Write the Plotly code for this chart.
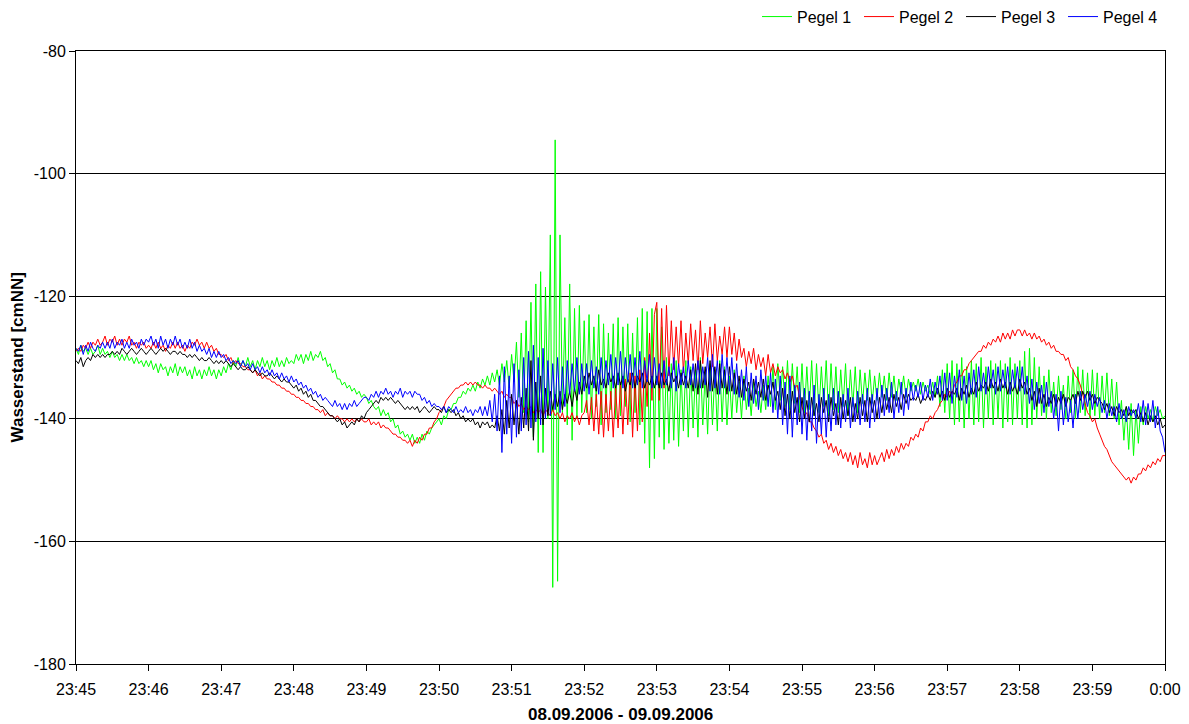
import pandas as pd
import plotly.graph_objects as go

# ---- data: water levels [cmNN], 2-second samples, one row per minute ----
start_time = "2006-09-08 23:45:00"
sample_step_s = 2

pegel1_rows = [
    [-128.5,-129.5,-128,-129,-128.5,-129.5,-128.5,-129.5,-129,-128,-129.5,-128.5,-129.5,-129,-130,-129,-130,-129.5,-130.5,-129.5,-130.5,-129.5,-130.5,-130,-131,-130,-131,-130.5,-131.5,-130.5],
    [-131.5,-130.5,-132,-131,-132.5,-131,-132,-131.5,-133,-131.5,-132.5,-131,-133,-131.5,-132.5,-131.5,-133,-132,-133.5,-131.5,-133,-132,-133.5,-132,-133,-131.5,-133,-132,-133.5,-132],
    [-133,-131.5,-132.5,-131,-132,-130.5,-131.5,-130,-131.5,-130.5,-131.5,-130,-131.5,-130.5,-132,-130.5,-131.5,-130,-131.5,-130.5,-132,-130.5,-131.5,-130,-131.5,-130.5,-131.5,-130,-131,-130.5],
    [-131,-129.5,-130.5,-129.5,-131,-129.5,-130.5,-129,-130.5,-129.5,-130,-129,-130.5,-130,-131.5,-131,-132.5,-132,-133.5,-133.5,-134.5,-134,-135,-134.5,-135.5,-135,-136,-135.5,-136.5,-136],
    [-136.5,-137.5,-137,-138,-138.5,-138,-139.5,-138.5,-139.5,-139,-140.5,-140,-141.5,-141,-142.5,-142,-143,-142.5,-143.5,-142.5,-144,-143,-144,-142.5,-143.5,-142,-142.5,-141.5,-141,-140.5],
    [-140,-141,-139.5,-140,-138.5,-138.5,-137.5,-137.5,-136.5,-136.5,-135.5,-136,-135,-135.5,-134.5,-135.5,-134,-135,-133.5,-134.5,-133,-134.5,-132.5,-134,-132,-134.5,-131,-134,-130.5,-135],
    [-129.5,-134,-127.5,-136.5,-126,-139,-124,-140.5,-121,-143,-118,-145.5,-116,-145.5,-118.5,-140,-110,-167.5,-94.5,-166.5,-110,-139,-123.5,-141,-118,-143.5,-122,-140,-121.5,-139],
    [-124,-139,-123,-140,-125,-138,-123,-141,-124.5,-139,-126,-138.5,-124.5,-140,-123.5,-139.5,-125,-138,-124.5,-140.5,-126,-139,-123.5,-141,-122,-144,-122.5,-148,-122,-146.5],
    [-122,-143,-125,-145,-130,-144,-131,-143.5,-130.5,-144.5,-132,-142,-130.5,-143,-131.5,-141.5,-132,-143,-130,-141,-132.5,-142.5,-131,-141,-132,-142,-130.5,-140.5,-131.5,-141],
    [-133,-140,-132,-139,-134,-140,-133,-138.5,-135,-139.5,-134,-138,-135.5,-139,-134.5,-138.5,-133,-138,-131.5,-138.5,-131,-137,-131.5,-138,-130.5,-138.5,-131,-137.5,-131.5,-139],
    [-131,-139,-131.5,-138.5,-130.5,-139.5,-131,-139,-131.5,-138,-130.5,-139.5,-131,-138.5,-131.5,-139,-132,-138,-131,-139.5,-132,-138,-131.5,-139,-132,-137.5,-132.5,-137,-132,-137.5],
    [-133,-137,-132.5,-136.5,-133,-137,-132.5,-136.5,-133,-137,-133.5,-136,-133,-136.5,-133.5,-135.5,-134,-135.5,-133.5,-136,-134,-135.5,-134.5,-136,-134,-136.5,-133,-138,-132,-139],
    [-131,-140,-130.5,-141,-131,-140.5,-130,-141.5,-131.5,-140,-130.5,-141,-131,-140.5,-130,-141.5,-131.5,-140,-130.5,-141,-131,-140,-130.5,-141.5,-131,-140.5,-130,-141,-131,-140],
    [-130.5,-141,-129,-141.5,-128.5,-141,-130,-140,-131.5,-139.5,-133,-140,-132,-139,-134,-139.5,-133,-138.5,-134.5,-140,-133,-139,-132,-140,-131.5,-139,-132,-139.5,-132.5,-140],
    [-132,-139.5,-132.5,-140,-133,-139,-132.5,-139.5,-133.5,-140,-134,-141,-137,-143.5,-138,-145,-137.5,-146,-138.5,-144,-138,-141,-138,-140,-138.5,-140.5,-138,-139.5,-138.5,-140],
]
pegel1_end = -139.5

pegel2_rows = [
    [-129,-128.5,-129,-128,-128.5,-127.5,-128.5,-127.5,-128,-127,-128,-127.5,-126.5,-128,-127,-127.5,-126.5,-128,-127,-128,-127,-127.5,-126.5,-128,-127.5,-128.5,-127.5,-128,-127.5,-128.5],
    [-128,-128.5,-127.5,-128.5,-127.5,-128.5,-128,-129,-128,-128.5,-127.5,-128.5,-127.5,-128.5,-128,-129,-128,-128.5,-127.5,-128,-127,-128,-127.5,-128.5,-127.5,-128.5,-128,-129,-128.5,-129.5],
    [-129.5,-130,-129.5,-130.5,-130,-131,-130.5,-131,-131,-131.5,-131.5,-132,-132,-132.5,-132,-133,-132.5,-133.5,-133,-133.5,-133.5,-134,-134,-134.5,-134.5,-135,-135,-135.5,-135.5,-136],
    [-136,-136.5,-136.5,-137,-137,-137.5,-137.5,-138,-138,-138.5,-138.5,-139,-138.5,-139.5,-139,-139.5,-139.5,-140,-139.5,-140,-140,-140.5,-140,-140.5,-140,-140.5,-140,-140.5,-140,-140.5],
    [-140.5,-140,-141,-140.5,-141,-140.5,-141.5,-141,-141.5,-141.5,-142,-142.5,-142.5,-143,-143,-143.5,-143.5,-144,-143.5,-144.5,-143.5,-144,-143,-143.5,-142.5,-142.5,-141.5,-141.5,-140.5,-140],
    [-139,-138.5,-138,-137,-136.5,-136,-135.5,-135,-135,-134.5,-134.5,-134,-134.5,-134,-134.5,-134,-134.5,-134.5,-135,-134.5,-135,-135,-135.5,-135,-135.5,-136,-135.5,-136.5,-136,-136.5],
    [-136.5,-137.5,-137,-138,-137.5,-138.5,-138,-138.5,-138,-139,-138.5,-139,-138.5,-139.5,-138.5,-139,-139.5,-138.5,-139.5,-139,-140,-139,-140.5,-139.5,-140,-139,-140.5,-139.5,-141,-139.5],
    [-139,-137,-141,-136.5,-142,-136,-142.5,-135.5,-143,-136,-142,-135.5,-143,-135,-141.5,-134,-142.5,-133.5,-141,-132.5,-143,-133,-142,-132,-140.5,-130,-138,-126,-137,-123],
    [-121,-137,-122,-135,-121.5,-133,-124,-132,-125,-131.5,-124,-132.5,-126,-131,-124.5,-130.5,-125.5,-132,-124,-131,-126,-130,-125,-131.5,-124.5,-130.5,-126.5,-129.5,-125,-130],
    [-125,-129.5,-126,-130.5,-127,-130,-128.5,-131.5,-129,-131,-128.5,-132,-129.5,-131.5,-130,-133,-129.5,-132.5,-131,-133,-131.5,-132.5,-132,-133.5,-132.5,-134,-133,-135,-134.5,-136.5],
    [-138,-139.5,-139,-140.5,-140.5,-141.5,-142,-143,-142.5,-144,-143.5,-145,-144,-145.5,-144.5,-146,-145,-146.5,-145.5,-147,-145.5,-147.5,-146,-148,-145.5,-147.5,-146.5,-148,-145.5,-147.5],
    [-146,-147.5,-146.5,-145.5,-147,-145,-146.5,-145,-146,-144.5,-145.5,-144,-145,-144,-144.5,-143,-143.5,-142.5,-143,-141.5,-142,-140.5,-140.5,-139.5,-140,-139,-138.5,-137.5,-137,-136],
    [-136.5,-135.5,-136,-134.5,-134,-133,-133,-132,-132,-131,-130.5,-130,-129.5,-129,-129,-128,-128.5,-127.5,-128,-127,-127.5,-126.5,-127.5,-126,-127,-126,-127,-125.5,-126.5,-125.5],
    [-125.5,-126.5,-125.5,-126.5,-126,-127,-126,-127,-126.5,-127.5,-127,-128,-127.5,-128.5,-128,-129,-129,-129.5,-129.5,-130.5,-130,-131.5,-132,-133,-133.5,-134.5,-136,-137.5,-139,-139.5],
    [-140.5,-140,-141.5,-142.5,-143.5,-144.5,-145,-146,-147,-147.5,-148,-148.5,-149,-149.5,-150,-149.5,-150.5,-149.5,-150,-149,-149,-148,-148.5,-147.5,-148,-147,-147.5,-146.5,-147,-146],
]
pegel2_end = -146

pegel3_rows = [
    [-130.5,-131,-130,-131.5,-130.5,-130,-130.5,-129.5,-130,-129.5,-130,-129.5,-130,-129.5,-129.5,-129,-129.5,-129,-129.5,-128.5,-129,-129.5,-129,-128.5,-129,-129.5,-129,-128.5,-129,-129.5],
    [-129,-128.5,-129,-129.5,-129,-128.5,-129,-128.5,-129,-129.5,-129,-129,-129.5,-129,-129.5,-129.5,-130,-129.5,-130,-129.5,-130,-130.5,-130,-130.5,-130.5,-130,-130.5,-131,-130.5,-131],
    [-130.5,-131,-130.5,-131,-131.5,-131,-131.5,-132,-131.5,-132,-132,-131.5,-132,-132.5,-132,-132.5,-133,-132.5,-133,-133,-132.5,-133,-133.5,-133,-133.5,-134,-133.5,-134,-134,-134.5],
    [-135,-134.5,-135.5,-135,-136,-135.5,-136.5,-136,-137,-137,-137.5,-138,-138,-138.5,-139,-139.5,-139.5,-140,-140.5,-140,-141,-140.5,-141.5,-141,-140.5,-141,-140,-140.5,-139.5,-140],
    [-139,-138.5,-138,-137.5,-137,-137.5,-136.5,-137,-136.5,-137,-136.5,-137,-137.5,-137,-137.5,-138,-138.5,-138,-138.5,-138,-138.5,-138,-139,-138.5,-138,-138.5,-139,-138.5,-138,-138.5],
    [-138.5,-139,-138,-139,-138.5,-139,-138.5,-139.5,-139,-140,-139.5,-140.5,-140,-140.5,-140,-141,-140.5,-141.5,-140.5,-141,-140.5,-141.5,-141,-141.5,-139.5,-142,-138.5,-142.5,-137,-141.5],
    [-136,-141,-137,-142.5,-136.5,-141.5,-135,-142,-130.5,-143.5,-134,-140,-133,-141,-135,-139.5,-135.5,-138.5,-136,-138,-135.5,-138.5,-136,-137.5,-135.5,-138,-135,-137,-134,-136],
    [-133,-135,-132.5,-134.5,-133,-135.5,-132,-134.5,-133.5,-135,-132.5,-134,-133,-135,-132.5,-134.5,-133,-135.5,-133.5,-134.5,-132.5,-135,-133,-134,-132.5,-135,-133.5,-134.5,-133,-135],
    [-133,-135,-132.5,-134.5,-133.5,-135.5,-132.5,-134,-133,-135,-132.5,-134.5,-133,-135,-132,-135.5,-131,-136,-130.5,-135,-131.5,-136.5,-130.5,-135.5,-131.5,-136,-131,-135,-132,-136],
    [-131.5,-135.5,-132.5,-136,-133,-136.5,-133.5,-135.5,-134,-137,-133.5,-136,-134,-136.5,-133.5,-137,-134.5,-136,-134,-137,-135.5,-138.5,-135,-139.5,-136,-140,-135.5,-139,-136.5,-140.5],
    [-136.5,-140,-137,-140.5,-136.5,-139.5,-137.5,-140.5,-136.5,-139,-137,-140.5,-136.5,-139.5,-137.5,-141,-136.5,-140,-137,-139.5,-136.5,-140.5,-137.5,-140,-136.5,-139.5,-137,-140.5,-136.5,-139],
    [-137,-140,-136.5,-139,-136,-138.5,-136.5,-139,-136,-138,-136.5,-138.5,-136,-137.5,-136,-137,-136.5,-137,-136,-137.5,-136.5,-137,-136,-137,-135.5,-136.5,-135,-136.5,-135.5,-137],
    [-135,-136.5,-135.5,-136,-135,-137,-135,-136,-134.5,-136.5,-135,-136,-134,-135.5,-134.5,-135,-134,-135.5,-133.5,-135,-134,-135.5,-133.5,-135,-134,-136,-134,-135.5,-134.5,-136],
    [-133.5,-135,-134,-136,-135,-137,-135.5,-138,-135,-137.5,-136,-138,-136.5,-137.5,-136,-138,-136.5,-137.5,-136,-138,-136.5,-137,-136,-137.5,-135.5,-137,-135.5,-136.5,-135.5,-137],
    [-136,-137.5,-136.5,-137,-137.5,-138.5,-137.5,-139,-138,-139.5,-138,-139,-138.5,-139.5,-138,-139.5,-138.5,-139,-138.5,-140,-139,-140.5,-139,-141,-139.5,-140.5,-139.5,-141,-140,-141.5],
]
pegel3_end = -141

pegel4_rows = [
    [-128.5,-129,-128,-129.5,-128,-129,-127.5,-128.5,-129,-128,-128.5,-127.5,-128.5,-127.5,-128.5,-127,-128.5,-127.5,-128,-127,-128.5,-127.5,-128.5,-127,-128,-127.5,-128.5,-127,-128,-127],
    [-127.5,-126.5,-128,-127,-128.5,-126.5,-128,-127,-128.5,-127,-128,-126.5,-128,-127,-128.5,-127.5,-128.5,-127,-128.5,-127.5,-129,-128,-129,-128.5,-129.5,-128.5,-130,-129,-130,-129],
    [-130,-129.5,-130.5,-130,-131,-130.5,-131,-130.5,-131.5,-130.5,-131.5,-131,-132,-131,-132,-131.5,-132.5,-131.5,-132.5,-132,-133,-132,-133,-132.5,-133.5,-132.5,-133.5,-133,-134,-133],
    [-134,-133.5,-134.5,-134,-135,-134.5,-135.5,-135,-136,-135.5,-136.5,-136,-137,-136.5,-137,-137.5,-138,-137,-138,-137.5,-138.5,-137.5,-138.5,-137.5,-138,-137,-138,-137.5,-137,-136.5],
    [-136.5,-137,-136,-136.5,-135.5,-136.5,-135.5,-136,-135,-136,-135.5,-136.5,-135.5,-136,-135,-136.5,-135.5,-136,-135.5,-136.5,-135.5,-136,-136,-137,-136.5,-137.5,-137,-138,-137.5,-138],
    [-138,-138.5,-138,-139,-138,-138.5,-139,-138,-139,-138.5,-139,-138,-139,-138.5,-139.5,-138.5,-139,-138,-139.5,-138,-139.5,-137,-140.5,-136,-142,-133,-145.5,-131.5,-142.5,-133],
    [-144,-131,-143,-132,-142,-130,-141,-129,-141.5,-128,-140.5,-130,-141,-128.5,-140,-130.5,-139.5,-131,-138.5,-130,-139,-131.5,-138,-130.5,-136,-131,-135.5,-130,-136,-131],
    [-135.5,-131,-136,-130.5,-135,-131.5,-136,-130,-135,-130.5,-134.5,-129.5,-135,-130,-134.5,-129,-135,-130,-134,-129.5,-135,-130,-134.5,-129,-135,-130.5,-134,-129.5,-135,-130],
    [-134.5,-131,-135,-130.5,-134.5,-131.5,-135,-130,-135.5,-131,-134.5,-131.5,-135,-130.5,-134.5,-131,-135,-130.5,-135,-131.5,-134.5,-130,-135.5,-129.5,-135,-130.5,-136,-129.5,-135,-130],
    [-135.5,-130,-136,-131,-136.5,-132,-137,-131.5,-138,-132.5,-137.5,-133,-138.5,-132,-137,-133,-138,-132.5,-139,-133.5,-140,-133,-141,-134,-142.5,-133,-143,-134.5,-141,-134],
    [-142.5,-135,-143.5,-135.5,-142,-134.5,-144,-136,-142.5,-135,-143,-136,-142,-135,-141,-135.5,-141.5,-136,-140.5,-135,-141.5,-136.5,-140.5,-135.5,-141,-136,-140.5,-135,-141.5,-136],
    [-140.5,-135,-140,-134.5,-139.5,-135,-139,-134,-140,-135.5,-139,-134,-139.5,-135,-138.5,-134,-137,-134.5,-136.5,-134,-137,-134.5,-136.5,-133.5,-137,-134,-136,-133,-137,-132.5],
    [-137,-132.5,-137.5,-133,-136.5,-132,-137,-133,-137.5,-132.5,-136,-132,-136.5,-131.5,-135.5,-132.5,-136,-131.5,-135,-132,-136,-131.5,-135.5,-132,-135,-131.5,-136,-132,-135,-131.5],
    [-135.5,-131.5,-136,-133,-137.5,-133.5,-138.5,-134,-137.5,-134.5,-139,-134,-138,-135.5,-140,-136,-142,-135.5,-141,-136.5,-140.5,-137,-141.5,-136,-140,-135.5,-138.5,-136,-138,-135.5],
    [-138.5,-136,-138,-136.5,-139,-137,-140,-137.5,-139.5,-138,-140.5,-137.5,-140,-138.5,-140.5,-138,-139.5,-138.5,-140,-137.5,-140.5,-137,-141,-137.5,-140.5,-137,-141.5,-138,-142,-143],
]
pegel4_end = -145.5

series_names = ["Pegel 1", "Pegel 2", "Pegel 3", "Pegel 4"]
series_colors = ["#00FF00", "#FF0000", "#000000", "#0000FF"]
tick_labels = ["23:45", "23:46", "23:47", "23:48", "23:49", "23:50", "23:51", "23:52",
               "23:53", "23:54", "23:55", "23:56", "23:57", "23:58", "23:59", "0:00"]
y_ticks = [-180, -160, -140, -120, -100, -80]
y_tick_labels = ["-180", "-160", "-140", "-120", "-100", "-80"]
x_title = "08.09.2006 - 09.09.2006"
y_title = "Wasserstand [cmNN]"

base = pd.Timestamp(start_time)


def build(rows, end_value):
    xs, ys = [], []
    for m, row in enumerate(rows):
        for j, v in enumerate(row):
            xs.append(base + pd.Timedelta(seconds=60 * m + sample_step_s * j))
            ys.append(v)
    xs.append(base + pd.Timedelta(minutes=len(rows)))
    ys.append(end_value)
    return xs, ys


all_series = [
    build(pegel1_rows, pegel1_end),
    build(pegel2_rows, pegel2_end),
    build(pegel3_rows, pegel3_end),
    build(pegel4_rows, pegel4_end),
]

fig = go.Figure()
for (xs, ys), name, color in zip(all_series, series_names, series_colors):
    fig.add_trace(go.Scatter(x=xs, y=ys, mode="lines", name=name,
                             line=dict(color=color, width=1)))

tick_vals = [base + pd.Timedelta(minutes=i) for i in range(len(tick_labels))]

fig.update_layout(
    width=1189, height=724,
    margin=dict(l=76, r=24, t=51, b=60, autoexpand=False),
    plot_bgcolor="white", paper_bgcolor="white",
    font=dict(family="Liberation Sans, Arial, sans-serif", size=16, color="black"),
    legend=dict(orientation="h", x=1.0, xanchor="right", y=1.056, yanchor="middle",
                font=dict(size=16), bgcolor="rgba(0,0,0,0)", traceorder="normal",
                entrywidth=57, entrywidthmode="pixels"),
    showlegend=True,
)
fig.update_xaxes(
    range=[tick_vals[0], tick_vals[-1]],
    tickvals=tick_vals, ticktext=tick_labels,
    showline=True, linecolor="black", linewidth=1, mirror=True,
    ticks="outside", ticklen=6, tickcolor="black", ticklabelstandoff=5,
    showgrid=False, zeroline=False, tickfont=dict(size=16),
)
fig.update_yaxes(
    range=[-180, -80], tickvals=y_ticks, ticktext=y_tick_labels,
    showline=True, linecolor="black", linewidth=1, mirror=True,
    ticks="outside", ticklen=6, tickcolor="black",
    showgrid=True, gridcolor="#000000", gridwidth=1,
    zeroline=False, tickfont=dict(size=16),
)
fig.add_annotation(text="<b>" + y_title + "</b>", xref="paper", yref="paper",
                   x=-0.0533, y=0.5, xanchor="center", yanchor="middle",
                   textangle=-90, showarrow=False, font=dict(size=17))
fig.add_annotation(text="<b>" + x_title + "</b>", xref="paper", yref="paper",
                   x=0.5, y=-0.0816, xanchor="center", yanchor="middle",
                   showarrow=False, font=dict(size=17))

fig.write_html("out.html")
